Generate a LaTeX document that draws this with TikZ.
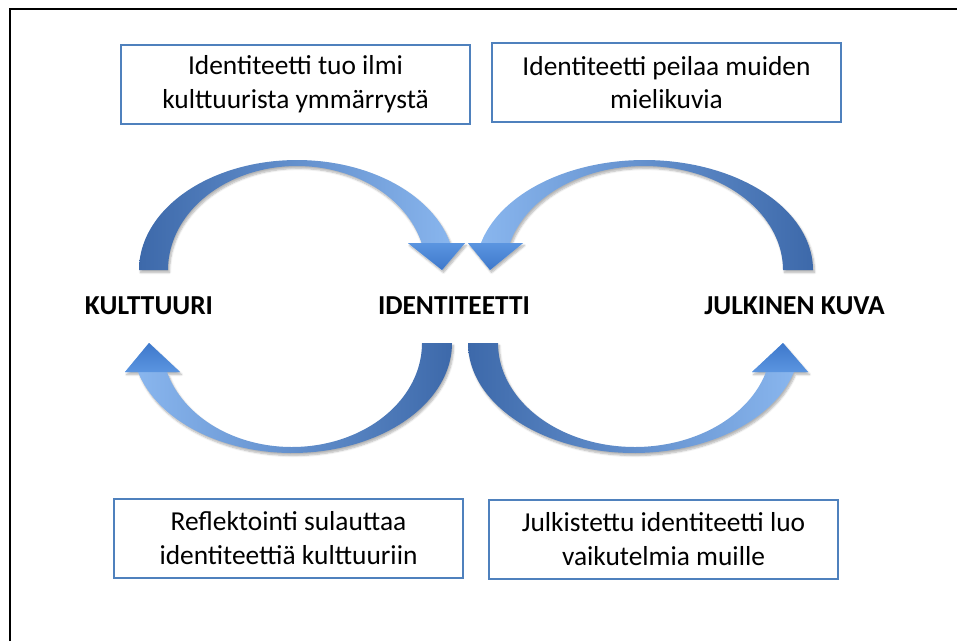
\documentclass[tikz,border=0pt]{standalone}
\usepackage{fontspec}
\setmainfont{Carlito}
\usetikzlibrary{shadows.blur}

\definecolor{boxblue}{HTML}{4F81BD}
\definecolor{arrdark}{HTML}{3D69AA}
\definecolor{arrlight}{HTML}{8CB9F1}
\definecolor{headlight}{HTML}{5B95E0}
\definecolor{headdark}{HTML}{3E78CB}

\begin{document}
\begin{tikzpicture}[x=1pt,y=-1pt,
  textbox/.style={draw=boxblue, line width=2pt, fill=white,
    minimum width=349pt, minimum height=79pt, align=center, inner sep=0pt,
    font=\fontsize{27.4}{33.4}\selectfont},
  keyword/.style={font=\fontsize{27.4}{33.4}\selectfont\bfseries, inner sep=0pt},
  arrowshadow/.style={blur shadow={shadow xshift=1.5pt, shadow yshift=-2.5pt,
    shadow opacity=30, shadow blur steps=6, shadow blur radius=2pt}},
]
\useasboundingbox (0,0) rectangle (957,641);

% frame
\draw[line width=2pt] (10,641) -- (10,9) -- (957,9);

% text boxes
\node[textbox] (b1) at (295.5,84) {Identiteetti tuo ilmi\\kulttuurista ymmärrystä};
\node[textbox] (b2) at (666.5,82.5) {Identiteetti peilaa muiden\\mielikuvia};
\node[textbox] (b3) at (288.5,538) {Reflektointi sulauttaa\\identiteettiä kulttuuriin};
\node[textbox] (b4) at (663.5,539) {Julkistettu identiteetti luo\\vaikutelmia muille};

% key concepts
\node[keyword] (kult) at (149,306) {KULTTUURI};
\node[keyword] (ident) at (454,306) {IDENTITEETTI};
\node[keyword] (julk) at (794.5,306) {JULKINEN KUVA};

% curved arrow: kulttuuri -> identiteetti (over the top)
\path[arrowshadow, left color=arrdark, right color=arrlight]
  (139,270) -- plot[domain=180:14.21, samples=90] ({297+158*cos(\x)},{270-110*sin(\x)})
  -- (465,243) -- (442,270) -- (408,243)
  -- plot[domain=15.05:180, samples=90] ({297+129*cos(\x)},{270-104*sin(\x)}) -- cycle;
\path[top color=headlight, bottom color=headdark] (408,243) -- (465,243) -- (442,270) -- cycle;

% curved arrow: julkinen kuva -> identiteetti (over the top)
\path[arrowshadow, left color=arrlight, right color=arrdark]
  (813,270) -- plot[domain=0:165.79, samples=90] ({644.4+168.6*cos(\x)},{270-110*sin(\x)})
  -- (468,243) -- (490,270) -- (523,243)
  -- plot[domain=164.95:0, samples=90] ({644.1+138.9*cos(\x)},{270-104*sin(\x)}) -- cycle;
\path[top color=headlight, bottom color=headdark] (468,243) -- (523,243) -- (490,270) -- cycle;

% curved arrow: identiteetti -> kulttuuri (underneath)
\path[arrowshadow, left color=arrlight, right color=arrdark]
  (452,343) -- plot[domain=0:164.71, samples=90] ({292.2+159.8*cos(\x)},{343+110*sin(\x)})
  -- (125,372) -- (149,343) -- (180,372)
  -- plot[domain=163.81:0, samples=90] ({291.9+130.1*cos(\x)},{343+104*sin(\x)}) -- cycle;
\path[top color=headdark, bottom color=headlight] (125,372) -- (149,343) -- (180,372) -- cycle;

% curved arrow: identiteetti -> julkinen kuva (underneath)
\path[arrowshadow, left color=arrdark, right color=arrlight]
  (468,343) -- plot[domain=180:15.29, samples=90] ({633.9+165.9*cos(\x)},{343+110*sin(\x)})
  -- (808,372) -- (783,343) -- (752,372)
  -- plot[domain=16.19:180, samples=90] ({634.7+136.7*cos(\x)},{343+104*sin(\x)}) -- cycle;
\path[top color=headdark, bottom color=headlight] (752,372) -- (783,343) -- (808,372) -- cycle;

\end{tikzpicture}
\end{document}
